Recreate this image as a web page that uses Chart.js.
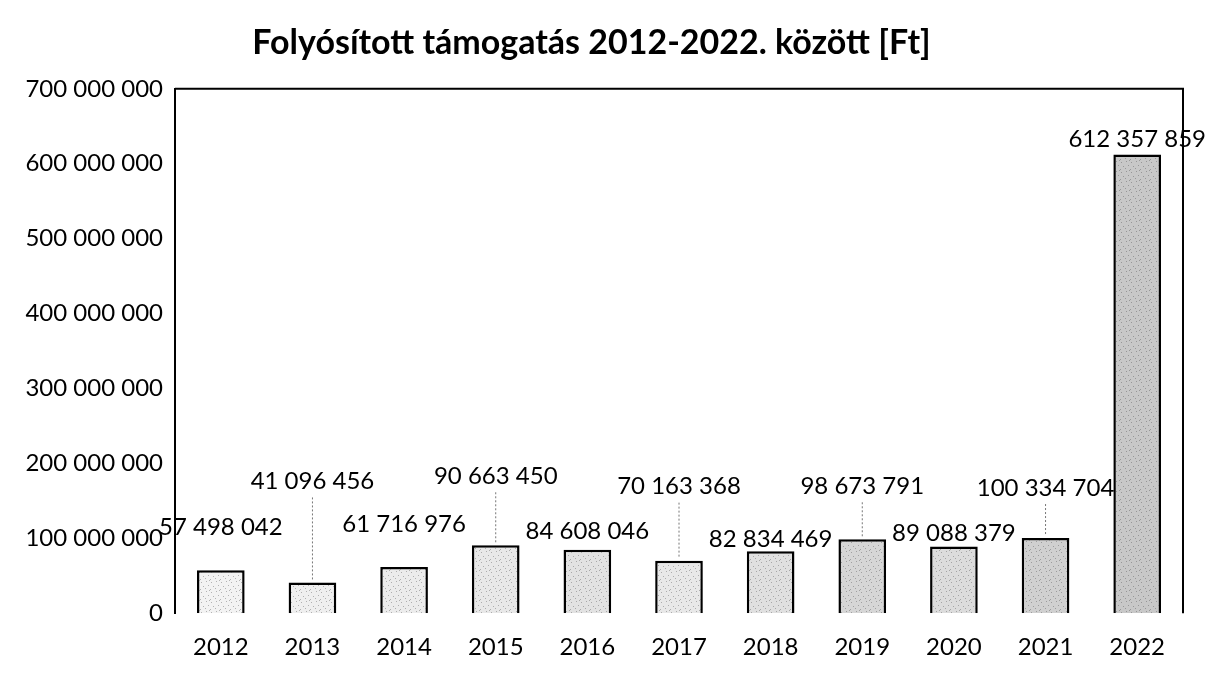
<!DOCTYPE html>
<html><head><meta charset="utf-8">
<script src="https://cdn.jsdelivr.net/npm/chart.js@4/dist/chart.umd.min.js"></script>
<style>html,body{margin:0;padding:0;background:#fff}</style>
</head><body>
<canvas id="c" width="1213" height="681"></canvas>
<script>
const categories = ['2012','2013','2014','2015','2016','2017','2018','2019','2020','2021','2022'];
const values = [57498042, 41096456, 61716976, 90663450, 84608046, 70163368, 82834469, 98673791, 89088379, 100334704, 612357859];
const yTicks = [0, 100000000, 200000000, 300000000, 400000000, 500000000, 600000000, 700000000];
const titleText = 'Folyósított támogatás 2012-2022. között [Ft]';
// style only: label lift in px above bar top, leader line flags, bar shades
const labelLift = [43, 101, 43, 69, 19, 74, 12, 53, 13, 50, 15];
const leaderLines = [0, 1, 0, 1, 0, 1, 0, 1, 0, 1, 0];
const barShades = ['#f3f3f3','#efefef','#ececec','#e8e8e8','#e2e2e2','#e8e8e8','#e0e0e0','#d6d6d6','#dcdcdc','#d0d0d0','#c8c8c8'];

const FONT = 'Lato';
function fmt(n){ return String(Math.round(n)).replace(/\B(?=(\d{3})+(?!\d))/g, ' '); }

function makePattern(base){
  const t = document.createElement('canvas'); t.width = 10; t.height = 10;
  const g = t.getContext('2d');
  g.fillStyle = base; g.fillRect(0,0,10,10);
  g.fillStyle = 'rgba(60,60,60,0.35)';
  const dots = [[1,2],[6,1],[3,6],[8,5],[5,8],[0,9],[9,0]];
  dots.forEach(d => g.fillRect(d[0], d[1], 1, 1));
  return g.createPattern(t, 'repeat');
}
const ctx0 = document.getElementById('c').getContext('2d');
const fills = barShades.map(makePattern);

const labelPlugin = {
  id: 'labels',
  afterDatasetsDraw(chart){
    const ctx = chart.ctx;
    const meta = chart.getDatasetMeta(0);
    ctx.save();
    ctx.font = '24px ' + FONT;
    ctx.fillStyle = '#000';
    ctx.textAlign = 'center';
    ctx.textBaseline = 'middle';
    meta.data.forEach((bar, i) => {
      const ly = bar.y - labelLift[i];
      ctx.fillText(fmt(values[i]), bar.x, ly);
      if (leaderLines[i]) {
        ctx.save();
        ctx.strokeStyle = '#777';
        ctx.lineWidth = 1;
        ctx.setLineDash([2, 2]);
        ctx.beginPath();
        ctx.moveTo(bar.x, ly + 16);
        ctx.lineTo(bar.x, bar.y - 2);
        ctx.stroke();
        ctx.restore();
      }
    });
    ctx.restore();
  }
};
const framePlugin = {
  id: 'frame',
  afterDraw(chart){
    const a = chart.chartArea, ctx = chart.ctx;
    ctx.save();
    ctx.strokeStyle = '#000';
    ctx.lineWidth = 2;
    ctx.beginPath();
    ctx.moveTo(a.left, a.top);
    ctx.lineTo(a.right, a.top);
    ctx.lineTo(a.right, a.bottom);
    ctx.stroke();
    ctx.restore();
  }
};

new Chart(ctx0, {
  type: 'bar',
  data: {
    labels: categories,
    datasets: [{
      data: values,
      backgroundColor: fills,
      borderColor: '#000',
      borderWidth: 2.5,
      borderSkipped: 'start',
      barPercentage: 0.52,
      categoryPercentage: 1.0
    }]
  },
  options: {
    responsive: false,
    animation: false,
    layout: { padding: { left: 0, right: 30, top: 0, bottom: 7 } },
    plugins: {
      legend: { display: false },
      tooltip: { enabled: false },
      title: {
        display: true,
        text: titleText,
        color: '#000',
        font: { family: FONT, size: 34, weight: 'bold' },
        padding: { top: 23, bottom: 25 }
      }
    },
    scales: {
      x: {
        grid: { display: false },
        border: { display: false },
        ticks: { color: '#000', font: { family: FONT, size: 24 }, padding: 12 }
      },
      y: {
        min: 0, max: 700000000,
        afterBuildTicks(scale){ scale.ticks = yTicks.map(v => ({ value: v })); },
        afterFit(scale){ scale.width = 175; },
        grid: { display: false, drawTicks: false },
        border: { display: true, color: '#000', width: 2 },
        ticks: { color: '#000', font: { family: FONT, size: 24 }, padding: 12, callback: v => fmt(v) }
      }
    }
  },
  plugins: [labelPlugin, framePlugin]
});
</script>
</body></html>
